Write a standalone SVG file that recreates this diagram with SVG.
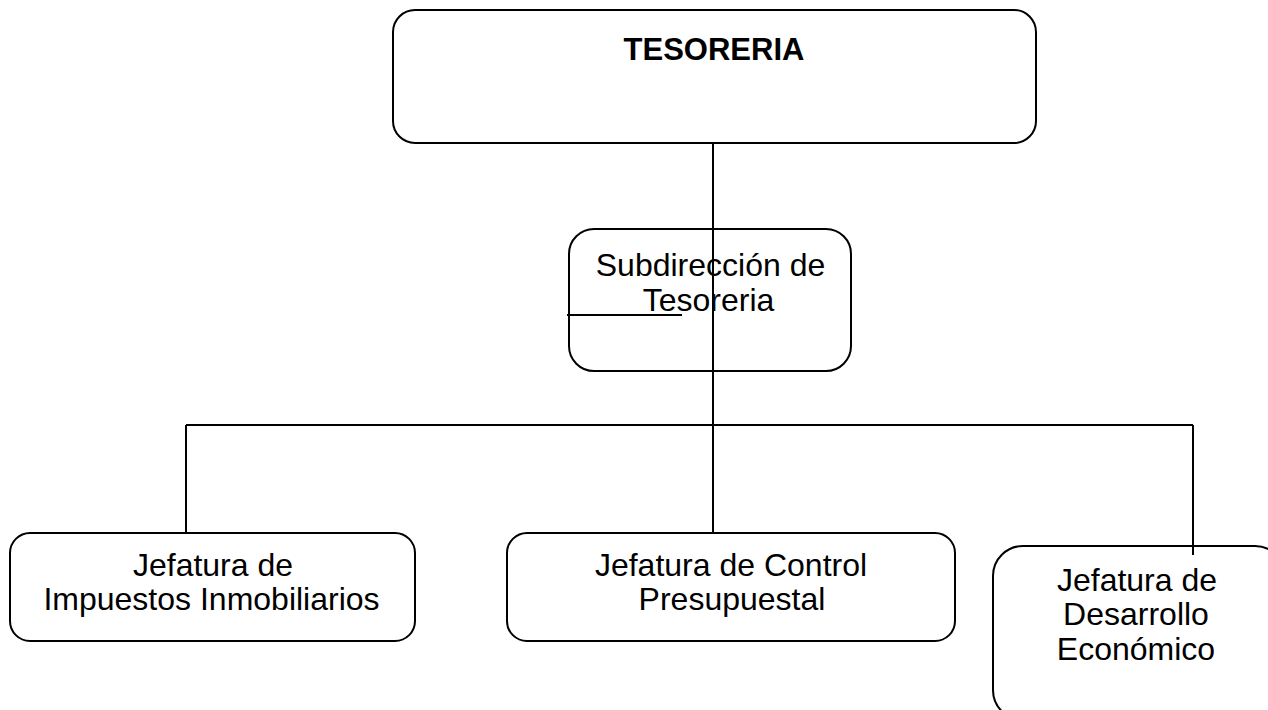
<svg xmlns="http://www.w3.org/2000/svg" width="1268" height="710" viewBox="0 0 1268 710">
<style>
.box{fill:#fff;stroke:#000;stroke-width:2}
.t{font-family:"Liberation Sans",Arial,sans-serif;font-size:32px;fill:#000;text-anchor:middle}
.b{font-weight:bold;font-size:31px}
.c{stroke:#000;stroke-width:2;fill:none}
</style>
<rect width="1268" height="710" fill="#fff"/>
<g id="tesoreria">
<rect class="box" x="393" y="10" width="643" height="133" rx="22"/>
<text class="t b" x="714" y="60">TESORERIA</text>
</g>
<g id="subdireccion">
<rect class="box" x="569" y="229" width="282" height="142" rx="25"/>
<text class="t" x="710.5" y="276">Subdirección de</text>
<text class="t" x="708.5" y="311">Tesoreria</text>
</g>
<g id="impuestos">
<rect class="box" x="10" y="533" width="405" height="108" rx="20"/>
<text class="t" x="213" y="576">Jefatura de</text>
<text class="t" x="211.5" y="610">Impuestos Inmobiliarios</text>
</g>
<g id="control">
<rect class="box" x="507" y="533" width="448" height="108" rx="20"/>
<text class="t" x="731" y="576">Jefatura de Control</text>
<text class="t" x="732" y="610">Presupuestal</text>
</g>
<g id="desarrollo">
<rect class="box" x="993" y="546" width="292" height="174" rx="30"/>
<text class="t" x="1137" y="591">Jefatura de</text>
<text class="t" x="1136" y="625">Desarrollo</text>
<text class="t" x="1136" y="660">Económico</text>
</g>
<g id="connectors">
<line class="c" x1="713" y1="143" x2="713" y2="533"/>
<line class="c" x1="567" y1="315" x2="682" y2="315"/>
<line class="c" x1="186" y1="425" x2="1193" y2="425"/>
<line class="c" x1="186" y1="425" x2="186" y2="533"/>
<line class="c" x1="1193" y1="425" x2="1193" y2="555"/>
</g>
</svg>
